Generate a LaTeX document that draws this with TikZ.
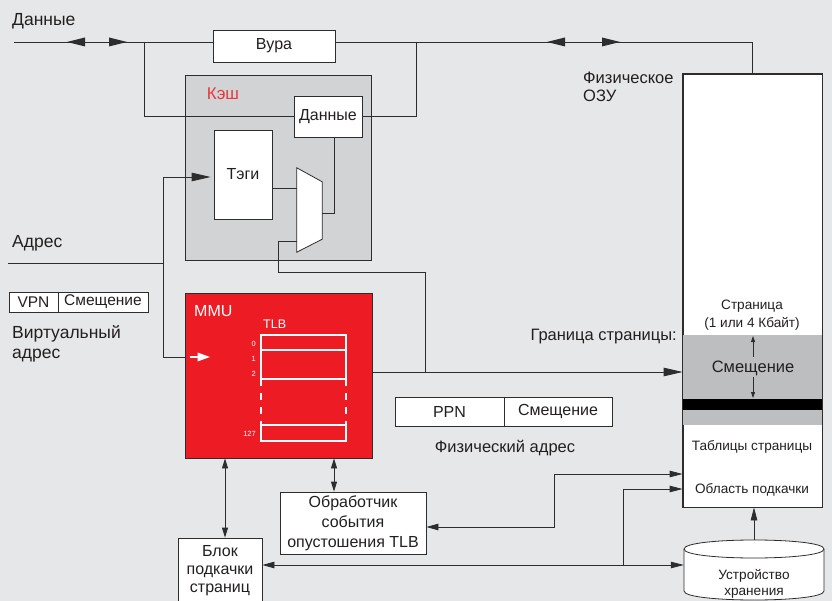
\documentclass[tikz,border=0pt]{standalone}
\usepackage{fontspec}
\setmainfont{Liberation Sans}
\usetikzlibrary{arrows.meta,calc}
\definecolor{bg}{RGB}{230,231,232}
\definecolor{cachegray}{RGB}{209,211,212}
\definecolor{band}{RGB}{188,190,192}
\definecolor{mmured}{RGB}{237,28,36}
\definecolor{ln}{RGB}{45,45,45}
\definecolor{txt}{RGB}{35,31,32}
\definecolor{kred}{RGB}{232,56,61}
\begin{document}
\begin{tikzpicture}[x=1pt,y=-1pt,
  wire/.style={draw=ln,line width=0.8pt},
  box/.style={draw=ln,fill=white,line width=0.8pt,inner sep=0pt,align=center,text=txt},
  fbig/.style={font=\fontsize{16.5}{20}\selectfont},
  fleft/.style={font=\fontsize{17.5}{20}\selectfont},
  fbox/.style={font=\fontsize{16}{20}\selectfont},
  fsmall/.style={font=\fontsize{13.6}{15}\selectfont},
  fmid/.style={font=\fontsize{15.5}{18}\selectfont},
  lbl/.style={inner sep=0pt,text=txt},
  bigA/.style={-{Triangle[length=19pt,width=8.5pt]}},
  midA/.style={-{Triangle[length=13pt,width=6.5pt]}},
  dblA/.style={{Triangle[length=10pt,width=6pt]}-{Triangle[length=10pt,width=6pt]}},
  dblM/.style={{Triangle[length=12pt,width=6.5pt]}-{Triangle[length=13pt,width=6.5pt]}},
  tinyA/.style={-{Triangle[length=6pt,width=4pt]}},
  tipL/.pic={\fill[ln] (0,0) -- (18,-4.5) -- (18,4.5) -- cycle;},
  tipR/.pic={\fill[ln] (0,0) -- (-18,-4.5) -- (-18,4.5) -- cycle;}
]
\fill[bg] (0,0) rectangle (832,601);
\useasboundingbox (0,0) rectangle (832,601);
\clip (0,0) rectangle (832,601);

% ---------- nodes ----------
\node[box,fbox,minimum width=122,minimum height=32] (vura) at (274,46) {Вура};
\node[draw=ln,fill=cachegray,line width=0.8pt,minimum width=186,minimum height=185,inner sep=0pt] (cache) at (278,167.5) {};
\node[inner sep=0pt,text=kred,font=\fontsize{17}{20}\selectfont] (kesh) at (223,94) {Кэш};
\node[box,fbox,minimum width=68,minimum height=41] (cdata) at (328,116.5) {Данные};
\node[box,fbox,minimum width=58,minimum height=89] (tags) at (243,174.5) {Тэги};
\node[inner sep=0pt,minimum width=25,minimum height=84] (mux) at (309.5,210) {};
\draw[wire,fill=white] (mux.north west) -- ($(mux.north east)+(0,14)$) -- ($(mux.south east)+(0,-13)$) -- (mux.south west) -- cycle;

\node[draw=ln,fill=mmured,line width=0.8pt,minimum width=187,minimum height=165,inner sep=0pt] (mmu) at (278.5,375.5) {};
\node[inner sep=0pt,anchor=base west,text=white,font=\fontsize{16}{18}\selectfont] (mmul) at (194,317) {MMU};
\node[inner sep=0pt,anchor=base west,text=white,font=\fontsize{12.5}{15}\selectfont] (tlbl) at (263,328) {TLB};
\begin{scope}[white,line width=2pt]
  \draw (261,335) rectangle (346,379);
  \draw (261,350) -- (346,350);
  \draw[dash pattern=on 7pt off 7pt] (261,379) -- (261,425);
  \draw[dash pattern=on 7pt off 7pt] (346,379) -- (346,425);
  \draw (261,425) rectangle (346,441);
\end{scope}
\begin{scope}[every node/.style={inner sep=0pt,anchor=base east,text=white,font=\fontsize{7.5}{9}\selectfont}]
  \node (n0) at (256,346) {0};
  \node (n1) at (256,361) {1};
  \node (n2) at (256,376) {2};
  \node (n127) at (256,436) {127};
\end{scope}

\node[box,font=\fontsize{15.5}{16}\selectfont,minimum width=49,minimum height=20] (vpn) at (33.5,302) {VPN};
\node[box,font=\fontsize{15.5}{16}\selectfont,minimum width=90,minimum height=20] (voff) at (103,302) {Смещение};
\node[box,font=\fontsize{16}{18}\selectfont,minimum width=109,minimum height=29] (ppn) at (449.5,411.5) {PPN};
\node[box,font=\fontsize{16}{18}\selectfont,minimum width=108,minimum height=29] (poff) at (558,411.5) {Смещение};

\node[box,fbox,minimum width=146,minimum height=62] (hnd) at (353,523) {Обработчик\\события\\опустошения TLB};
\node[box,font=\fontsize{16}{18}\selectfont,minimum width=84,minimum height=66] (blk) at (220,571) {Блок\\подкачки\\страниц};

% RAM
\node[draw=ln,fill=white,line width=0.8pt,minimum width=139,minimum height=433,inner sep=0pt] (ram) at (752.5,290.5) {};
\fill[band] (683,335) rectangle (822,399);
\fill[black] (683,399) rectangle (822,410);
\fill[band] (683,410) rectangle (822,425);
\draw[ln,line width=0.8pt] (ram.north west) rectangle (ram.south east);
\node[lbl,fsmall,anchor=base] (pg1) at (752,309) {Страница};
\node[lbl,fsmall,anchor=base] (pg2) at (752,327) {(1 или 4 Кбайт)};
\node[lbl,anchor=base,font=\fontsize{16.5}{18}\selectfont] (roff) at (753,372) {Смещение};
\draw[ln,line width=0.8pt,tinyA] (753,357) -- (753,336);
\draw[ln,line width=0.8pt,tinyA] (753,377) -- (753,398);
\node[lbl,fsmall,anchor=base] (ptab) at (752,450) {Таблицы страницы};
\node[lbl,fsmall,anchor=base] (swap) at (752,493) {Область подкачки};

% storage cylinder
\node[inner sep=0pt,minimum width=140,minimum height=60] (stor) at (754,570) {};
\draw[wire,fill=white] (684,549) -- (684,591) .. controls (684,603) and (824,603) .. (824,591) -- (824,549) .. controls (824,537) and (684,537) .. (684,549) -- cycle;
\draw[wire] (684,549) .. controls (684,561) and (824,561) .. (824,549);
\node[lbl,fsmall,anchor=base] (st1) at (754,579) {Устройство};
\node[lbl,fsmall,anchor=base] (st2) at (754,595) {хранения};

% free labels
\node[lbl,fleft,anchor=base west] (ldata) at (12,26) {Данные};
\node[lbl,fleft,anchor=base west] (laddr) at (12,248) {Адрес};
\node[lbl,fleft,anchor=base west] (lvirt1) at (12,338) {Виртуальный};
\node[lbl,fleft,anchor=base west] (lvirt2) at (12,359) {адрес};
\node[lbl,fbig,anchor=base west] (lram1) at (583,84) {Физическое};
\node[lbl,fbig,anchor=base west] (lram2) at (583,102) {ОЗУ};
\node[lbl,fbig,anchor=base east] (lbound) at (677,341) {Граница страницы:};
\node[lbl,fbig,anchor=base] (lphys) at (505,452) {Физический адрес};

% ---------- connectors ----------
\coordinate (din) at (14,42);
\coordinate (jl) at (144,42);
\coordinate (jr) at (416,42);
\draw[wire] (din) -- (din -| vura.west);
\pic at (67,42) {tipL};
\pic at (127,42) {tipR};
\draw[wire] (vura.east |- din) -- (din -| ram.north) -- (ram.north);
\pic at (547,42) {tipL};
\pic at (620,42) {tipR};
\draw[wire] (jl) |- (cdata.west);
\draw[wire] (cdata.east) -| (jr);

\coordinate (mi) at (297,188);
\draw[wire] (tags.east |- mi) -- (mi);
\coordinate (cd) at (334,137);
\coordinate (ms) at (322,213);
\draw[wire] (cd) -- (cd |- ms) -- (ms);
\coordinate (mo) at (297,241);
\coordinate (m1) at (425,372);
\draw[wire] (mo) -- (278,241) -- (278,272) -- (m1 |- 0,272) -- (m1);
\draw[wire,bigA] (mmu.east |- m1) -- (ram.west |- m1);

\coordinate (addr) at (8,263);
\coordinate (av) at (163,263);
\draw[wire] (addr) -- (av);
\draw[wire,bigA] (av) |- ($(tags.west)+(-3,2.5)$);
\draw[wire] (av) |- ($(mmu.west)+(0,-18.5)$);
\draw[white,line width=2.8pt,-{Triangle[length=13pt,width=8pt]}] ($(mmu.west)+(5,-18.5)$) -- ($(mmu.west)+(26,-18.5)$);

\coordinate (b1) at ($(blk.north)+(5,0)$);
\draw[wire,dblA] (b1 |- mmu.south) -- (b1);
\coordinate (h1) at ($(hnd.north)+(-19,0)$);
\draw[wire,dblA] (h1 |- mmu.south) -- (h1);

\coordinate (h3) at (554,527);
\coordinate (h2) at (554,474);
\draw[wire,dblM] (hnd.east |- h3) -- (h3) -- (h2) -- (ram.west |- h2);
\coordinate (s1) at (623,565);
\coordinate (s2) at (623,489);
\draw[wire,dblM] (blk.east |- s1) -- (stor.west |- s1);
\draw[wire,midA] (s1) -- (s2) -- (ram.west |- s2);
\draw[wire,midA] (stor.north) -- (stor.north |- ram.south);
\end{tikzpicture}
\end{document}
